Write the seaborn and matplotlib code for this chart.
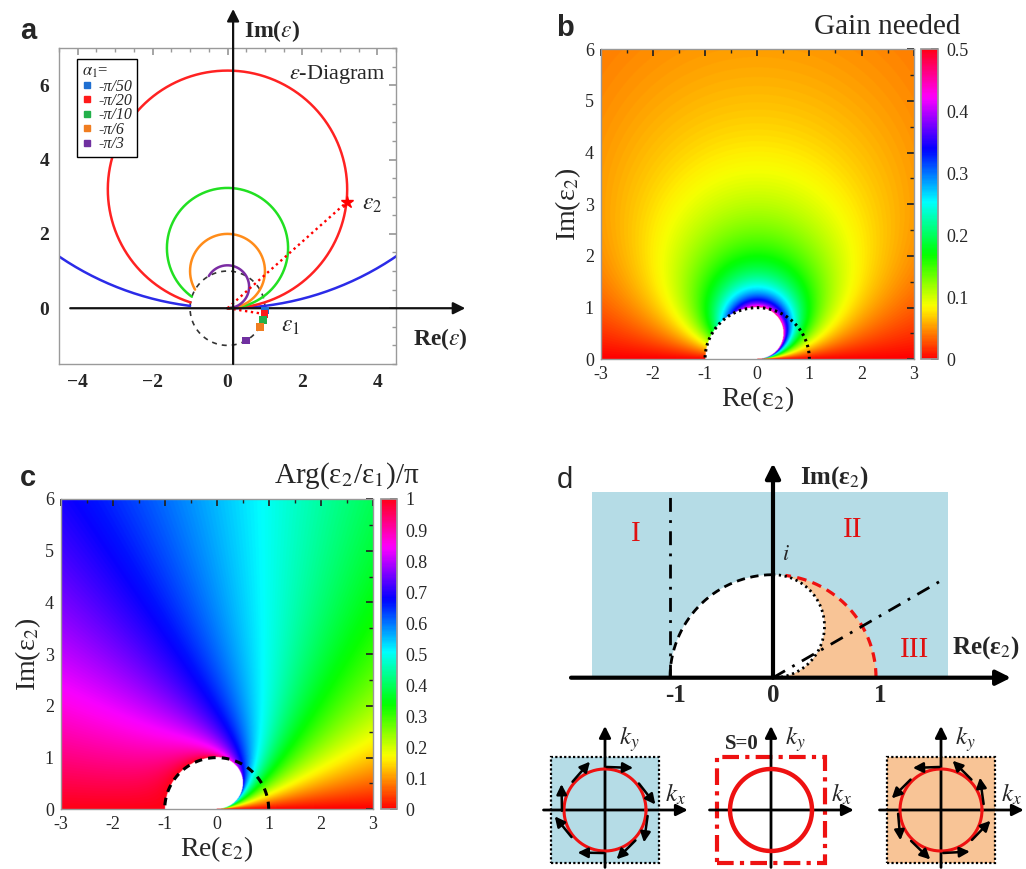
import numpy as np
import matplotlib
matplotlib.use("Agg")
import matplotlib.pyplot as plt
import seaborn as sns
from matplotlib.lines import Line2D
from matplotlib.patches import Rectangle, Polygon
from matplotlib.ticker import MultipleLocator

# ---------------- data ----------------
alpha_labels = ["-π/50", "-π/20", "-π/10", "-π/6", "-π/3"]
alpha_denominators = [50, 20, 10, 6, 3]
curve_colors = ["#2b2be8", "#ff2222", "#22e022", "#ff8c1a", "#7b2ca3"]
marker_colors = ["#1f6fd1", "#ff1a1a", "#22b04a", "#f07d20", "#7030a0"]
eps2_example = (3.18, 2.85)
a_xticks = [-4, -2, 0, 2, 4]
a_yticks = [0, 2, 4, 6]

map_re_range = [-3.0, 3.0]
map_im_range = [0.0, 6.0]
map_ticks_x = [-3, -2, -1, 0, 1, 2, 3]
map_ticks_y = [0, 1, 2, 3, 4, 5, 6]
gain_ticks = [0, 0.1, 0.2, 0.3, 0.4, 0.5]
arg_ticks = [0, 0.1, 0.2, 0.3, 0.4, 0.5, 0.6, 0.7, 0.8, 0.9, 1]

region_labels = ["I", "II", "III"]
d_tick_values = [-1, 0, 1]
phase_line_angle_deg = 30
cw_arrow_angles = [88, 38, -8, -45, -91, -141, 181, 139]
ccw_arrow_angles = [92, 45, 8, -44, -87, -134, 185, 135]

# ---------------- style ----------------
sns.set_theme(style="white")
plt.rcParams["font.family"] = ["Liberation Serif", "DejaVu Serif"]
plt.rcParams["mathtext.fontset"] = "stix"
plt.rcParams["axes.unicode_minus"] = True

W, H = 1026, 869
fig = plt.figure(figsize=(W / 100, H / 100), dpi=100)
fig.patch.set_facecolor("white")


def fbox(l, t, r, b):
    return [l / W, 1 - b / H, (r - l) / W, (b - t) / H]


LIGHT_BLUE = "#b5dce6"
LIGHT_ORANGE = "#f8c496"

# ================= panel a =================
axA = fig.add_axes(fbox(59, 48, 396, 364))
axA.set_xlim(-4.5, 4.5)
axA.set_ylim(-1.5, 7.0)
for s in axA.spines.values():
    s.set_color("#9a9a9a")
    s.set_linewidth(1.0)

th = np.linspace(0, 2 * np.pi, 400)
axA.plot(np.cos(th), np.sin(th), color="#333333", lw=1.2, ls=(0, (3, 3)))

for den, col in zip(alpha_denominators, curve_colors):
    alpha = -np.pi / den
    R = 1 / (2 * np.sin(abs(alpha)))
    t_end = 2 * np.pi - np.arccos(1 - 1 / (2 * R ** 2))
    t = np.linspace(0, t_end, 800)
    sns.lineplot(x=R * np.sin(t), y=R * (1 - np.cos(t)), sort=False,
                 estimator=None, color=col, lw=1.8, ax=axA)

alphas = [-np.pi / d for d in alpha_denominators]
e1x = [np.cos(a) for a in alphas]
e1y = [np.sin(a) for a in alphas]
# dotted red vectors
axA.plot([0, eps2_example[0]], [0, eps2_example[1]], color="red", lw=1.7, ls=(0, (1, 1.5)))
axA.plot([0, e1x[1]], [0, e1y[1]], color="red", lw=1.7, ls=(0, (1, 1.5)))
axA.plot([eps2_example[0]], [eps2_example[1]], marker="*", color="red", ms=9)
sns.scatterplot(x=e1x, y=e1y, hue=alpha_labels, palette=dict(zip(alpha_labels, marker_colors)),
                marker="s", s=32, linewidth=0, legend=False, ax=axA, zorder=5)

axA.set_xticks(a_xticks)
axA.set_yticks(a_yticks)
axA.xaxis.set_minor_locator(MultipleLocator(0.5))
axA.yaxis.set_minor_locator(MultipleLocator(0.5))
axA.tick_params(which="both", direction="in", top=True, right=True, color="#9a9a9a")
axA.tick_params(which="major", length=5, labelsize=14, pad=7)
axA.tick_params(which="minor", length=3)
for lb in axA.get_xticklabels() + axA.get_yticklabels():
    lb.set_fontweight("bold")

# axis arrows
axA.annotate("", xy=(0.15, 8.05), xytext=(0.15, -1.5),
             arrowprops=dict(arrowstyle="-|>", color="#111111", lw=1.6, mutation_scale=18,
                             shrinkA=0, shrinkB=0),
             annotation_clip=False)
axA.annotate("", xy=(6.35, 0), xytext=(-4.2, 0),
             arrowprops=dict(arrowstyle="-|>", color="#111111", lw=1.6, mutation_scale=18,
                             shrinkA=0, shrinkB=0),
             annotation_clip=False)
axA.text(0.45, 7.45, r"Im($\varepsilon$)", fontsize=17, fontweight="bold", ha="left", va="center",
         clip_on=False)
axA.text(5.69, -0.82, r"Re($\varepsilon$)", fontsize=17, fontweight="bold", ha="center", va="center",
         clip_on=False)
axA.text(2.94, 6.3, r"$\varepsilon$-Diagram", fontsize=16, ha="center", va="center")
axA.text(3.85, 2.8, r"$\varepsilon_2$", fontsize=17, ha="center", va="center")
axA.text(1.69, -0.5, r"$\varepsilon_1$", fontsize=17, ha="center", va="center")

handles = [Line2D([], [], marker="s", ls="none", color=c, markersize=5) for c in marker_colors]
leg = axA.legend(handles, alpha_labels, title=r"$\alpha_1$=", loc="upper left",
                 bbox_to_anchor=(0.054, 0.965), borderaxespad=0, frameon=True, fancybox=False,
                 framealpha=1, edgecolor="black", prop=dict(family="Liberation Serif", style="italic", size=11.5),
                 title_fontsize=12, handlelength=0.6, handletextpad=0.4, labelspacing=-0.1,
                 borderpad=0.3, alignment="left")
leg.get_frame().set_linewidth(1.0)

fig.text(28 / W, 1 - 31 / H, "a", fontsize=21, fontweight="bold", family="Liberation Sans",
         ha="center", va="center")

# ================= fields for b, c =================
xs = np.linspace(map_re_range[0], map_re_range[1], 801)
ys = np.linspace(map_im_range[0], map_im_range[1], 801)
X, Y = np.meshgrid(xs, ys)
r2 = X ** 2 + Y ** 2 + 1e-12
s = Y / r2
mask = (s > 1) | ((X < 0) & (r2 < 1))
alpha_min = np.arcsin(np.clip(s, 0, 1))
gain = np.ma.array(alpha_min / np.pi, mask=mask)
argval = np.ma.array((np.arctan2(Y, X) + alpha_min) / np.pi, mask=mask)

cmap = plt.get_cmap("hsv").copy()
cmap.set_bad("white")

semi = np.linspace(0, np.pi, 300)


def style_map(ax):
    ax.set_xlim(*map_re_range)
    ax.set_ylim(*map_im_range)
    ax.set_xticks(map_ticks_x)
    ax.set_yticks(map_ticks_y)
    ax.set_xticklabels([str(v) for v in map_ticks_x])
    ax.xaxis.set_minor_locator(MultipleLocator(0.5))
    ax.yaxis.set_minor_locator(MultipleLocator(0.5))
    ax.tick_params(which="both", direction="in", top=True, right=True, color="#222222")
    ax.tick_params(which="major", length=5, labelsize=13)
    ax.tick_params(axis="x", which="major", pad=5)
    ax.tick_params(axis="y", which="major", pad=5)
    ax.tick_params(which="minor", length=3)
    for sp in ax.spines.values():
        sp.set_color("#999999")
        sp.set_linewidth(1.0)
    ax.set_xlabel("Re(ε$_2$)", fontsize=20, labelpad=1)
    ax.set_ylabel("Im(ε$_2$)", fontsize=20, labelpad=1)


def style_cbar(cb, ticks):
    cb.set_ticks(ticks)
    cb.set_ticklabels([("%g" % v) for v in ticks])
    cb.ax.tick_params(direction="in", length=5, labelsize=13, pad=6, color="#222222")
    cb.outline.set_edgecolor("#999999")


# ================= panel b =================
axB = fig.add_axes(fbox(600.7, 49.3, 913.7, 359.3))
caxB = fig.add_axes(fbox(921, 49.3, 938, 359.3))
imB = axB.imshow(gain, extent=(*map_re_range, *map_im_range), origin="lower", cmap=cmap,
                 vmin=0, vmax=0.5, aspect="auto", interpolation="bilinear")
axB.plot(np.cos(semi), np.sin(semi), color="black", lw=2.2, ls=(0, (0.8, 1.2)))
style_map(axB)
cbB = fig.colorbar(imB, cax=caxB)
style_cbar(cbB, gain_ticks)
fig.text(960 / W, 1 - 27 / H, "Gain needed", fontsize=21, ha="right", va="center")
fig.text(565 / W, 1 - 28 / H, "b", fontsize=21, fontweight="bold", family="Liberation Sans",
         ha="center", va="center")

# ================= panel c =================
axC = fig.add_axes(fbox(60.7, 499, 372.7, 809.3))
caxC = fig.add_axes(fbox(381, 499, 396.7, 809.3))
imC = axC.imshow(argval, extent=(*map_re_range, *map_im_range), origin="lower", cmap=cmap,
                 vmin=0, vmax=1, aspect="auto", interpolation="bilinear")
axC.plot(np.cos(semi), np.sin(semi), color="black", lw=2.2, ls=(0, (2.5, 2)))
style_map(axC)
cbC = fig.colorbar(imC, cax=caxC)
style_cbar(cbC, arg_ticks)
fig.text(420 / W, 1 - 476 / H, "Arg(ε$_2$/ε$_1$)/π", fontsize=21, ha="right", va="center")
fig.text(28 / W, 1 - 478 / H, "c", fontsize=21, fontweight="bold", family="Liberation Sans",
         ha="center", va="center")

# ================= panel d (main) =================
SC = 103.0
X0, Y0 = 773.0, 677.7
axD = fig.add_axes(fbox(540, 455, 1020, 705))
axD.set_xlim((540 - X0) / SC, (1020 - X0) / SC)
axD.set_ylim((Y0 - 705) / SC, (Y0 - 455) / SC)
axD.axis("off")

rect_x0, rect_x1 = (592 - X0) / SC, (948 - X0) / SC
rect_top = (Y0 - 492.3) / SC
axD.add_patch(Rectangle((rect_x0, 0), rect_x1 - rect_x0, rect_top, facecolor=LIGHT_BLUE,
                        edgecolor="none", zorder=1))
q = np.linspace(0, np.pi / 2, 200)
phi = np.linspace(np.pi / 2, -np.pi / 2, 200)
small_x = 0.5 * np.cos(phi)
small_y = 0.5 + 0.5 * np.sin(phi)
orange_poly = np.vstack([np.column_stack([np.cos(q), np.sin(q)]),
                         np.column_stack([small_x, small_y])])
axD.add_patch(Polygon(orange_poly, closed=True, facecolor=LIGHT_ORANGE, edgecolor="none", zorder=2))
ql = np.linspace(np.pi, np.pi / 2, 200)
white_poly = np.vstack([np.column_stack([np.cos(ql), np.sin(ql)]),
                        np.column_stack([small_x, small_y])])
axD.add_patch(Polygon(white_poly, closed=True, facecolor="white", edgecolor="none", zorder=2))

axD.plot(np.cos(ql), np.sin(ql), color="black", lw=2, ls=(0, (3, 2)), zorder=3)
qr = np.linspace(0, np.deg2rad(83), 200)
axD.plot(np.cos(qr), np.sin(qr), color="#ee1111", lw=2.3, ls=(0, (3, 2)), zorder=3)
axD.plot(small_x, small_y, color="black", lw=2, ls=(0, (0.8, 1.3)), zorder=3)
axD.plot([-1, -1], [0, rect_top], color="black", lw=2, ls=(0, (5, 3, 1, 3)), zorder=3)
ang = np.deg2rad(phase_line_angle_deg)
Ld = 1.92
axD.plot([0, Ld * np.cos(ang)], [0, Ld * np.sin(ang)], color="black", lw=2,
         ls=(0, (5, 3, 1, 3)), zorder=3)

axD.annotate("", xy=((1011 - X0) / SC, 0), xytext=((571 - X0) / SC, 0),
             arrowprops=dict(arrowstyle="-|>", color="black", lw=3, mutation_scale=22,
                             shrinkA=0, shrinkB=0), zorder=4)
axD.annotate("", xy=(0, (Y0 - 463.3) / SC), xytext=(0, 0),
             arrowprops=dict(arrowstyle="-|>", color="black", lw=3, mutation_scale=22,
                             shrinkA=0, shrinkB=0), zorder=4)

for val, xpos in zip(d_tick_values, [-0.95, 0.0, 1.04]):
    axD.text(xpos, -0.17, "%d" % val, fontsize=18, fontweight="bold",
             ha="center", va="center")
for lab, (lx, ly) in zip(region_labels, [(-1.333, 1.40), (0.777, 1.43), (1.376, 0.27)]):
    axD.text(lx, ly, lab, color="#e01010", fontsize=21, ha="center", va="center", zorder=5)
axD.text(0.129, 1.19, r"$i$", fontsize=16, ha="center", va="center", zorder=5)
axD.text(0.6, 1.94, "Im(ε$_2$)", fontsize=18, fontweight="bold", ha="center", va="center")
axD.text(2.07, 0.29, "Re(ε$_2$)", fontsize=18, fontweight="bold", ha="center", va="center",
         clip_on=False)
fig.text(565 / W, 1 - 480 / H, "d", fontsize=21, family="Liberation Sans", ha="center", va="center")

# ================= panel d (small diagrams) =================
RS = 41.0


def small_diagram(cx, cy, face, edge, ls, lw_box, arrow_angles, direction, circ_lw, s_label=False):
    ax = fig.add_axes(fbox(cx - 80, cy - 85, cx + 80, cy + 85))
    ax.set_xlim(-80 / RS, 80 / RS)
    ax.set_ylim(-85 / RS, 85 / RS)
    ax.axis("off")
    ax.add_patch(Rectangle((-1.32, -1.30), 2.64, 2.60, facecolor=face, edgecolor=edge,
                           ls=ls, lw=lw_box, zorder=1))
    ax.annotate("", xy=(2.02, 0), xytext=(-1.5, 0),
                arrowprops=dict(arrowstyle="-|>", color="black", lw=2, mutation_scale=17,
                                shrinkA=0, shrinkB=0),
                annotation_clip=False, zorder=3)
    ax.annotate("", xy=(0, 2.05), xytext=(0, -1.40),
                arrowprops=dict(arrowstyle="-|>", color="black", lw=2, mutation_scale=17,
                                shrinkA=0, shrinkB=0),
                annotation_clip=False, zorder=3)
    tt = np.linspace(0, 2 * np.pi, 300)
    ax.plot(np.cos(tt), np.sin(tt), color="#ee1111", lw=circ_lw, zorder=4)
    for a in arrow_angles:
        ar = np.deg2rad(a)
        sx, sy = 1.05 * np.cos(ar), 1.05 * np.sin(ar)
        if direction == "cw":
            dx, dy = np.sin(ar), -np.cos(ar)
        else:
            dx, dy = -np.sin(ar), np.cos(ar)
        ax.annotate("", xy=(sx + 0.65 * dx, sy + 0.65 * dy), xytext=(sx, sy),
                    arrowprops=dict(arrowstyle="-|>", color="black", lw=1.8, mutation_scale=15,
                                    shrinkA=0, shrinkB=0),
                    zorder=5)
    ax.text(0.58, 1.73, r"$k_y$", fontsize=18, ha="center", va="center")
    ax.text(1.72, 0.38, r"$k_x$", fontsize=18, ha="center", va="center")
    if s_label:
        ax.text(-0.72, 1.62, "S=0", fontsize=15, fontweight="bold", ha="center", va="center")
    return ax


small_diagram(605, 810, LIGHT_BLUE, "black", (0, (1, 1)), 1.6, cw_arrow_angles, "cw", 2.2)
small_diagram(771, 810, "white", "#ee1111", (0, (4, 1.5, 1, 1.5)), 3.0, [], "cw", 3.2, s_label=True)
small_diagram(941, 810, LIGHT_ORANGE, "black", (0, (1, 1)), 1.6, ccw_arrow_angles, "ccw", 2.2)

fig.savefig("out.png", dpi=100, facecolor="white")
